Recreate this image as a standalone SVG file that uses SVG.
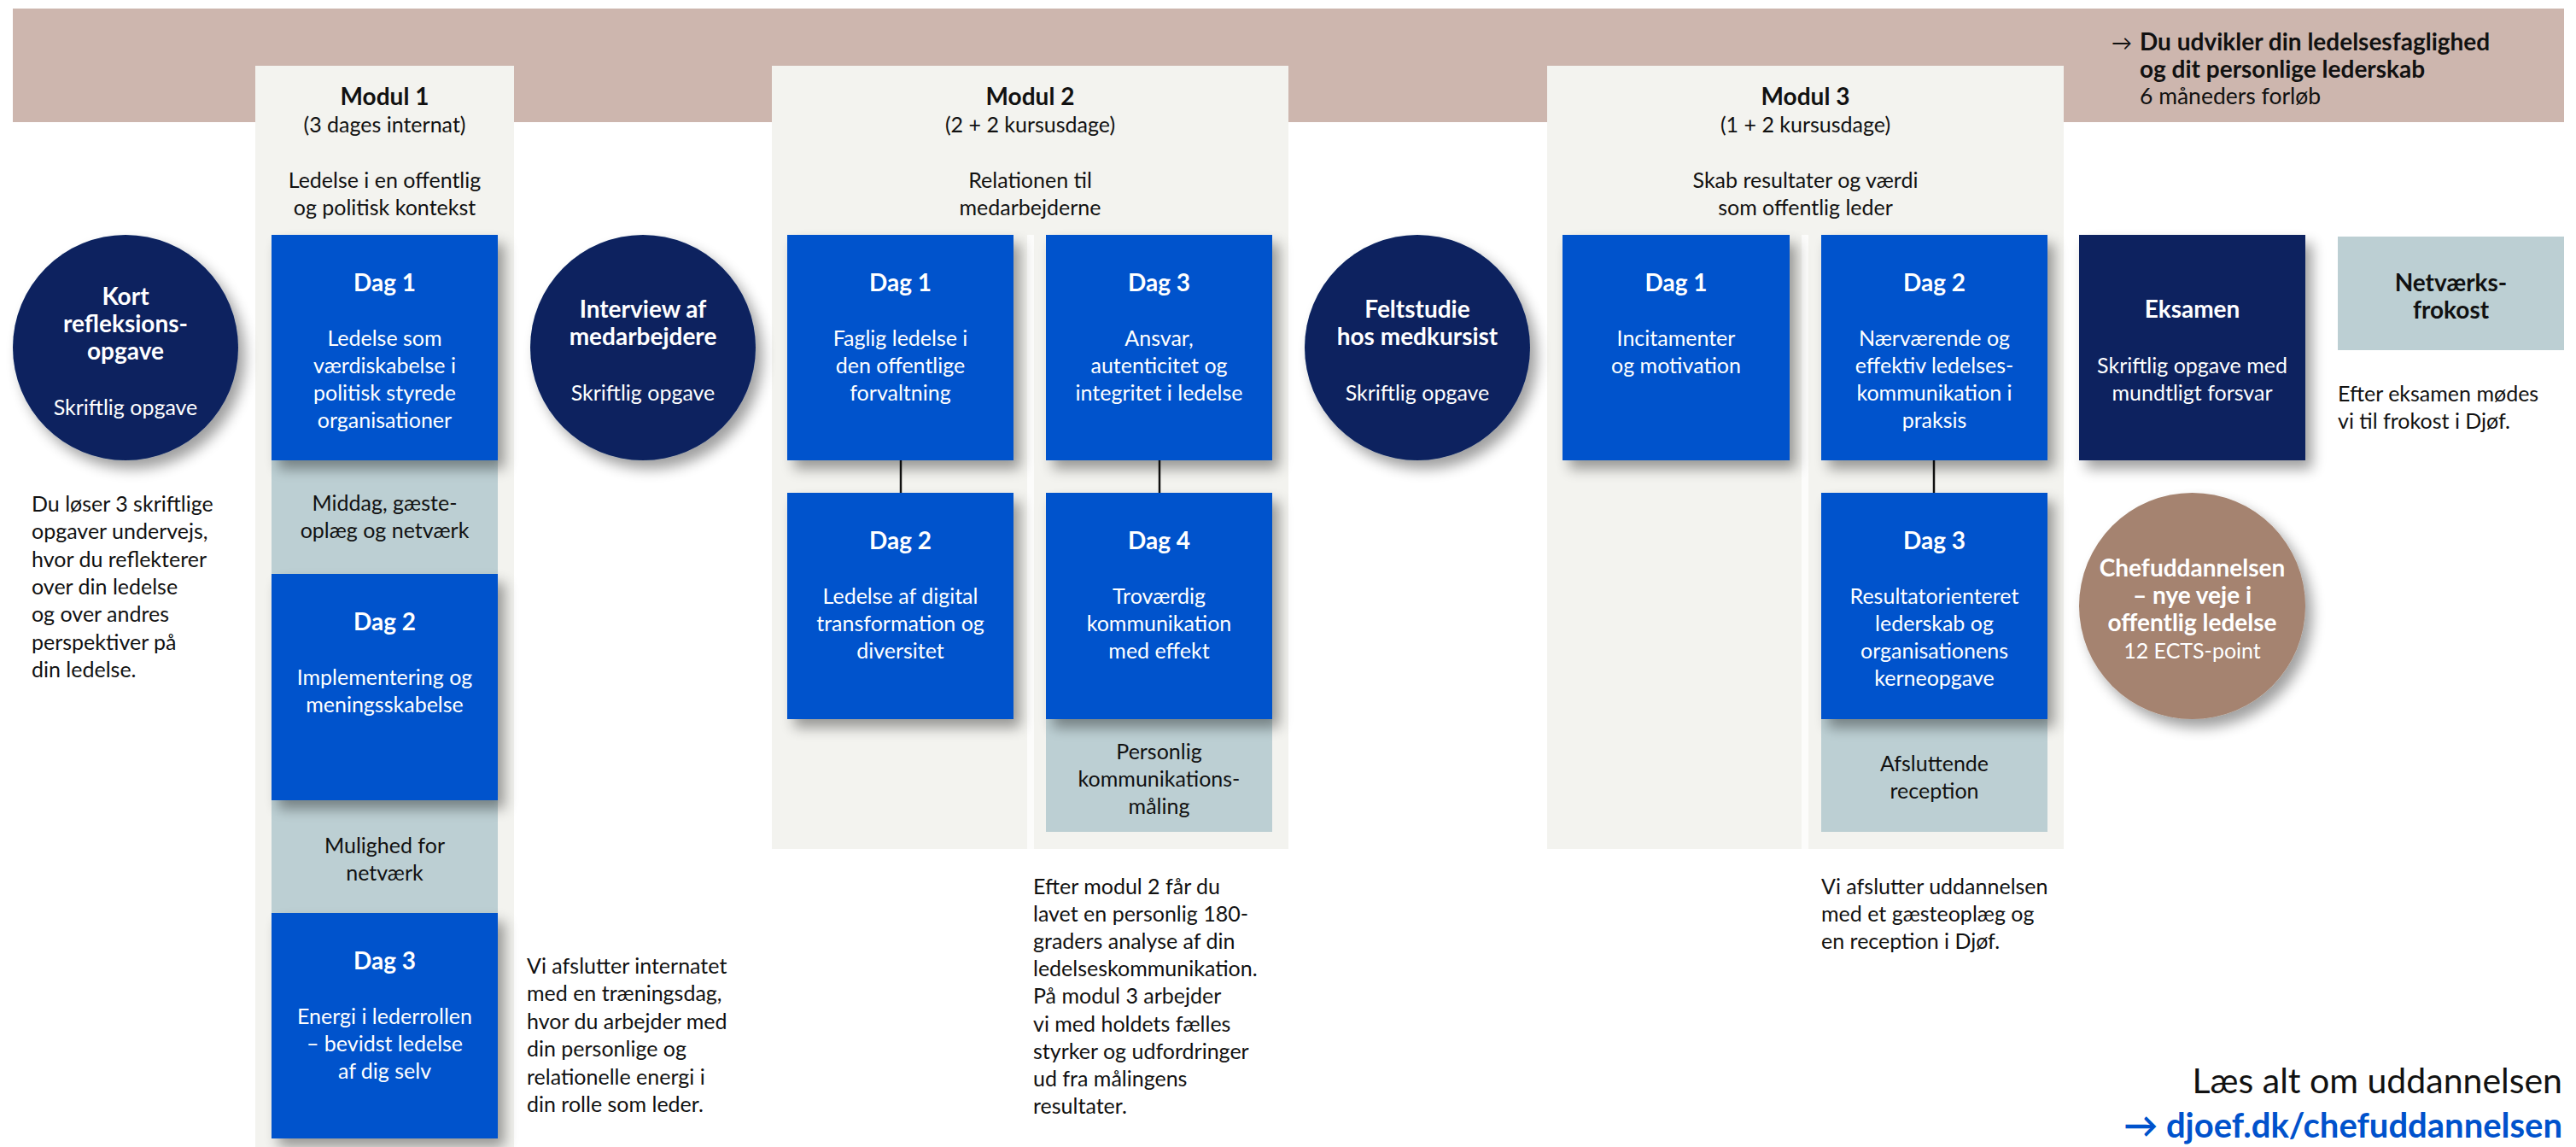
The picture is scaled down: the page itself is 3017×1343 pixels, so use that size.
<svg xmlns="http://www.w3.org/2000/svg" width="3017" height="1343" viewBox="0 0 3017 1343">
<defs>
<filter id="sh" x="-20%" y="-20%" width="150%" height="150%">
<feGaussianBlur in="SourceAlpha" stdDeviation="8"/>
<feOffset dx="8" dy="10"/>
<feComponentTransfer><feFuncA type="linear" slope="0.38"/></feComponentTransfer>
<feMerge><feMergeNode/><feMergeNode in="SourceGraphic"/></feMerge>
</filter>
<style>
text{font-family:Lato,"Liberation Sans","DejaVu Sans",sans-serif;fill:#111;font-size:25px}
.c{text-anchor:middle}
.w{fill:#fff}
.b{font-weight:700;font-size:28px}
.blue{fill:#0052cc}
.navy{fill:#08215e}
.grey{fill:#bccfd3}
.panel{fill:#f3f3ef}
.strip{fill:#fcfcfb}
.conn{stroke:#111;stroke-width:2.5;fill:none}
</style>
</defs>
<rect width="3017" height="1343" fill="#fff"/>
<rect x="15" y="10" width="2988" height="133" fill="#cdb6ae"/>

<g id="header">
<text class="b" y="59"><tspan x="2473" style="font-weight:400;font-size:24px">→</tspan><tspan x="2506">Du udvikler din ledelsesfaglighed</tspan></text>
<text class="b" x="2506" y="91">og dit personlige lederskab</text>
<text x="2506" y="122" style="font-size:26.5px">6 måneders forløb</text>
</g>

<g id="modul1-panel">
<rect class="panel" x="299" y="77" width="303" height="1266"/>
<text class="c b" x="450.5" y="123">Modul 1</text>
<text class="c" x="450.5" y="155">(3 dages internat)</text>
<text class="c" x="450.5" y="220">Ledelse i en offentlig</text>
<text class="c" x="450.5" y="252">og politisk kontekst</text>
</g>
<g id="modul2-panel">
<rect class="panel" x="904" y="77" width="605" height="917"/>
<rect class="strip" x="1203" y="275" width="8" height="719"/>
<text class="c b" x="1206.5" y="123">Modul 2</text>
<text class="c" x="1206.5" y="155">(2 + 2 kursusdage)</text>
<text class="c" x="1206.5" y="220">Relationen til</text>
<text class="c" x="1206.5" y="252">medarbejderne</text>
</g>
<g id="modul3-panel">
<rect class="panel" x="1812" y="77" width="605" height="917"/>
<rect class="strip" x="2110" y="275" width="8" height="719"/>
<text class="c b" x="2114.5" y="123">Modul 3</text>
<text class="c" x="2114.5" y="155">(1 + 2 kursusdage)</text>
<text class="c" x="2114.5" y="220">Skab resultater og værdi</text>
<text class="c" x="2114.5" y="252">som offentlig leder</text>
</g>

<g id="connectors">
<line class="conn" x1="1055" y1="539" x2="1055" y2="577"/>
<line class="conn" x1="1358" y1="539" x2="1358" y2="577"/>
<line class="conn" x1="2265" y1="539" x2="2265" y2="577"/>
</g>

<g id="kort-refleksionsopgave">
<circle class="navy" cx="147" cy="407" r="132" filter="url(#sh)"/>
<text class="c b w" x="147" y="357">Kort</text>
<text class="c b w" x="147" y="389">refleksions-</text>
<text class="c b w" x="147" y="421">opgave</text>
<text class="c w" x="147" y="486">Skriftlig opgave</text>
</g>
<g id="note-refleksion">
<text x="37" y="599">Du løser 3 skriftlige</text>
<text x="37" y="631">opgaver undervejs,</text>
<text x="37" y="664">hvor du reflekterer</text>
<text x="37" y="696">over din ledelse</text>
<text x="37" y="728">og over andres</text>
<text x="37" y="761">perspektiver på</text>
<text x="37" y="793">din ledelse.</text>
</g>

<g id="m1-middag">
<rect class="grey" x="318" y="539" width="265" height="133"/>
<text class="c" x="450.5" y="598">Middag, gæste-</text>
<text class="c" x="450.5" y="630">oplæg og netværk</text>
</g>
<g id="m1-mulighed">
<rect class="grey" x="318" y="937" width="265" height="132"/>
<text class="c" x="450.5" y="999">Mulighed for</text>
<text class="c" x="450.5" y="1031">netværk</text>
</g>
<g id="m1-dag1">
<rect class="blue" x="318" y="275" width="265" height="264" filter="url(#sh)"/>
<text class="c b w" x="450.5" y="341">Dag 1</text>
<text class="c w" x="450.5" y="405">Ledelse som</text>
<text class="c w" x="450.5" y="437">værdiskabelse i</text>
<text class="c w" x="450.5" y="469">politisk styrede</text>
<text class="c w" x="450.5" y="501">organisationer</text>
</g>
<g id="m1-dag2">
<rect class="blue" x="318" y="672" width="265" height="265" filter="url(#sh)"/>
<text class="c b w" x="450.5" y="738">Dag 2</text>
<text class="c w" x="450.5" y="802">Implementering og</text>
<text class="c w" x="450.5" y="834">meningsskabelse</text>
</g>
<g id="m1-dag3">
<rect class="blue" x="318" y="1069" width="265" height="264" filter="url(#sh)"/>
<text class="c b w" x="450.5" y="1135">Dag 3</text>
<text class="c w" x="450.5" y="1199">Energi i lederrollen</text>
<text class="c w" x="450.5" y="1231">– bevidst ledelse</text>
<text class="c w" x="450.5" y="1263">af dig selv</text>
</g>
<g id="note-internat">
<text x="617" y="1140">Vi afslutter internatet</text>
<text x="617" y="1172">med en træningsdag,</text>
<text x="617" y="1205">hvor du arbejder med</text>
<text x="617" y="1237">din personlige og</text>
<text x="617" y="1270">relationelle energi i</text>
<text x="617" y="1302">din rolle som leder.</text>
</g>

<g id="interview">
<circle class="navy" cx="753" cy="407" r="132" filter="url(#sh)"/>
<text class="c b w" x="753" y="372">Interview af</text>
<text class="c b w" x="753" y="404">medarbejdere</text>
<text class="c w" x="753" y="469">Skriftlig opgave</text>
</g>

<g id="m2-personlig">
<rect class="grey" x="1225" y="842" width="265" height="132"/>
<text class="c" x="1357.5" y="889">Personlig</text>
<text class="c" x="1357.5" y="921">kommunikations-</text>
<text class="c" x="1357.5" y="953">måling</text>
</g>
<g id="m2-dag1">
<rect class="blue" x="922" y="275" width="265" height="264" filter="url(#sh)"/>
<text class="c b w" x="1054.5" y="341">Dag 1</text>
<text class="c w" x="1054.5" y="405">Faglig ledelse i</text>
<text class="c w" x="1054.5" y="437">den offentlige</text>
<text class="c w" x="1054.5" y="469">forvaltning</text>
</g>
<g id="m2-dag3">
<rect class="blue" x="1225" y="275" width="265" height="264" filter="url(#sh)"/>
<text class="c b w" x="1357.5" y="341">Dag 3</text>
<text class="c w" x="1357.5" y="405">Ansvar,</text>
<text class="c w" x="1357.5" y="437">autenticitet og</text>
<text class="c w" x="1357.5" y="469">integritet i ledelse</text>
</g>
<g id="m2-dag2">
<rect class="blue" x="922" y="577" width="265" height="265" filter="url(#sh)"/>
<text class="c b w" x="1054.5" y="643">Dag 2</text>
<text class="c w" x="1054.5" y="707">Ledelse af digital</text>
<text class="c w" x="1054.5" y="739">transformation og</text>
<text class="c w" x="1054.5" y="771">diversitet</text>
</g>
<g id="m2-dag4">
<rect class="blue" x="1225" y="577" width="265" height="265" filter="url(#sh)"/>
<text class="c b w" x="1357.5" y="643">Dag 4</text>
<text class="c w" x="1357.5" y="707">Troværdig</text>
<text class="c w" x="1357.5" y="739">kommunikation</text>
<text class="c w" x="1357.5" y="771">med effekt</text>
</g>
<g id="note-modul2">
<text x="1210" y="1047">Efter modul 2 får du</text>
<text x="1210" y="1079">lavet en personlig 180-</text>
<text x="1210" y="1111">graders analyse af din</text>
<text x="1210" y="1143">ledelseskommunikation.</text>
<text x="1210" y="1175">På modul 3 arbejder</text>
<text x="1210" y="1208">vi med holdets fælles</text>
<text x="1210" y="1240">styrker og udfordringer</text>
<text x="1210" y="1272">ud fra målingens</text>
<text x="1210" y="1304">resultater.</text>
</g>

<g id="feltstudie">
<circle class="navy" cx="1660" cy="407" r="132" filter="url(#sh)"/>
<text class="c b w" x="1660" y="372">Feltstudie</text>
<text class="c b w" x="1660" y="404">hos medkursist</text>
<text class="c w" x="1660" y="469">Skriftlig opgave</text>
</g>

<g id="m3-afsluttende">
<rect class="grey" x="2133" y="842" width="265" height="132"/>
<text class="c" x="2265.5" y="903">Afsluttende</text>
<text class="c" x="2265.5" y="935">reception</text>
</g>
<g id="m3-dag1">
<rect class="blue" x="1830" y="275" width="266" height="264" filter="url(#sh)"/>
<text class="c b w" x="1963" y="341">Dag 1</text>
<text class="c w" x="1963" y="405">Incitamenter</text>
<text class="c w" x="1963" y="437">og motivation</text>
</g>
<g id="m3-dag2">
<rect class="blue" x="2133" y="275" width="265" height="264" filter="url(#sh)"/>
<text class="c b w" x="2265.5" y="341">Dag 2</text>
<text class="c w" x="2265.5" y="405">Nærværende og</text>
<text class="c w" x="2265.5" y="437">effektiv ledelses-</text>
<text class="c w" x="2265.5" y="469">kommunikation i</text>
<text class="c w" x="2265.5" y="501">praksis</text>
</g>
<g id="m3-dag3">
<rect class="blue" x="2133" y="577" width="265" height="265" filter="url(#sh)"/>
<text class="c b w" x="2265.5" y="643">Dag 3</text>
<text class="c w" x="2265.5" y="707">Resultatorienteret</text>
<text class="c w" x="2265.5" y="739">lederskab og</text>
<text class="c w" x="2265.5" y="771">organisationens</text>
<text class="c w" x="2265.5" y="803">kerneopgave</text>
</g>
<g id="note-modul3">
<text x="2133" y="1047">Vi afslutter uddannelsen</text>
<text x="2133" y="1079">med et gæsteoplæg og</text>
<text x="2133" y="1111">en reception i Djøf.</text>
</g>

<g id="eksamen">
<rect class="navy" x="2435" y="275" width="265" height="264" filter="url(#sh)"/>
<text class="c b w" x="2567.5" y="372">Eksamen</text>
<text class="c w" x="2567.5" y="437">Skriftlig opgave med</text>
<text class="c w" x="2567.5" y="469">mundtligt forsvar</text>
</g>
<g id="netvaerksfrokost">
<rect class="grey" x="2738" y="277" width="265" height="133"/>
<text class="c b" x="2870.5" y="341">Netværks-</text>
<text class="c b" x="2870.5" y="373">frokost</text>
</g>
<g id="note-frokost">
<text x="2738" y="470">Efter eksamen mødes</text>
<text x="2738" y="502">vi til frokost i Djøf.</text>
</g>
<g id="chefuddannelsen">
<circle cx="2567.5" cy="709.5" r="132.5" fill="#a5836f" filter="url(#sh)"/>
<text class="c b w" x="2567.5" y="675">Chefuddannelsen</text>
<text class="c b w" x="2567.5" y="707">– nye veje i</text>
<text class="c b w" x="2567.5" y="739">offentlig ledelse</text>
<text class="c w" x="2567.5" y="771">12 ECTS-point</text>
</g>

<g id="footer">
<text x="3001" y="1280" style="text-anchor:end;font-size:41px">Læs alt om uddannelsen</text>
<text x="3001" y="1332" style="text-anchor:end;font-size:40px;font-weight:700;fill:#0052cc">→ djoef.dk/chefuddannelsen</text>
</g>
</svg>
